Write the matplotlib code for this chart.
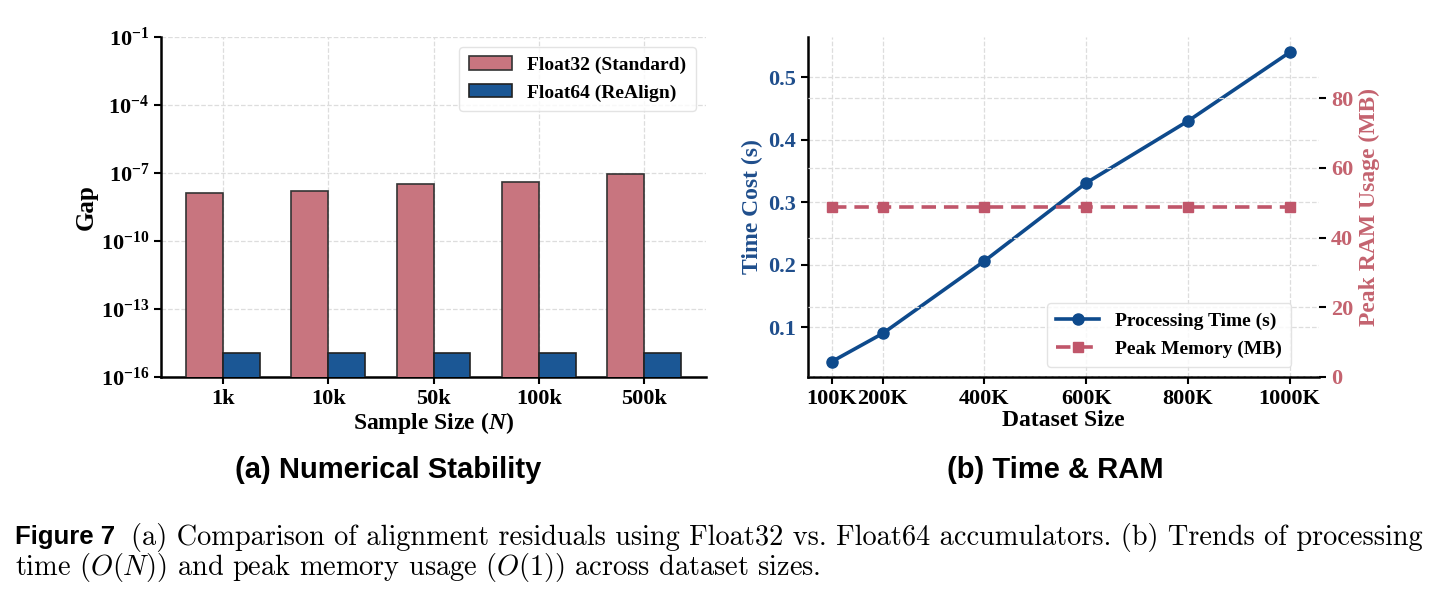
import numpy as np
import matplotlib
matplotlib.use("Agg")
import matplotlib.pyplot as plt
from matplotlib.ticker import NullLocator

# ---- datos (a) ----
tamanos = ["1k", "10k", "50k", "100k", "500k"]
gap_float32 = [1.3e-8, 1.6e-8, 3.2e-8, 4.0e-8, 9.5e-8]
gap_float64 = [1.1e-15, 1.1e-15, 1.1e-15, 1.1e-15, 1.1e-15]

# ---- datos (b) ----
dataset_k = [100, 200, 400, 600, 800, 1000]
dataset_labels = ["100K", "200K", "400K", "600K", "800K", "1000K"]
tiempo_s = [0.045, 0.090, 0.206, 0.331, 0.430, 0.540]
memoria_mb = [48.8, 48.8, 48.8, 48.8, 48.8, 48.8]

ROSA = "#C8757F"
AZUL_BARRA = "#1B5795"
AZUL_LINEA = "#0E4A8C"
ROSA_LINEA = "#C0566A"
ROSA_TEXTO = "#C4636F"
AZUL_TEXTO = "#1F4E8C"

plt.rcParams["font.family"] = ["Liberation Serif", "DejaVu Serif"]
plt.rcParams["font.weight"] = "bold"
plt.rcParams["mathtext.fontset"] = "custom"
plt.rcParams["mathtext.rm"] = "Liberation Serif:bold"
plt.rcParams["mathtext.it"] = "Liberation Serif:italic:bold"
plt.rcParams["mathtext.bf"] = "Liberation Serif:bold"

fig = plt.figure(figsize=(14.42, 5.96), dpi=100)
W, H = 1442, 596

def caja(x0, x1, y0, y1):
    return [x0 / W, 1 - y1 / H, (x1 - x0) / W, (y1 - y0) / H]

TICK = 16
LABEL = 17
LEG = 14

# ---------- (a) ----------
ax1 = fig.add_axes(caja(161, 706, 37, 377))
x = np.arange(len(tamanos))
ancho = 0.35
ax1.bar(x - ancho / 2, gap_float32, ancho, color=ROSA, edgecolor="#333333",
        linewidth=1.2, label="Float32 (Standard)", zorder=3)
ax1.bar(x + ancho / 2, gap_float64, ancho, color=AZUL_BARRA, edgecolor="#222222",
        linewidth=1.2, label="Float64 (ReAlign)", zorder=3)
ax1.set_yscale("log")
ax1.set_ylim(1e-16, 1e-1)
ax1.set_yticks([1e-16, 1e-13, 1e-10, 1e-7, 1e-4, 1e-1])
ax1.yaxis.set_minor_locator(NullLocator())
ax1.set_xlim(-0.59, 4.59)
ax1.set_xticks(x)
ax1.set_xticklabels(tamanos)
ax1.tick_params(axis="both", labelsize=TICK, width=1.5, length=5)
ax1.set_xlabel("Sample Size ($N$)", fontsize=LABEL, fontweight="bold", labelpad=1)
ax1.set_ylabel("Gap", fontsize=LABEL + 1, fontweight="bold", labelpad=2)
ax1.grid(True, linestyle="--", color="#dddddd", linewidth=0.9, zorder=0)
for s in ["top", "right"]:
    ax1.spines[s].set_visible(False)
for s in ["left", "bottom"]:
    ax1.spines[s].set_linewidth(1.8)
leg1 = ax1.legend(loc="upper right", fontsize=LEG, frameon=True, fancybox=True,
                  borderpad=0.5, handlelength=2.2, bbox_to_anchor=(1.0, 1.0))
leg1.get_frame().set_edgecolor("#dddddd")

# ---------- (b) ----------
ax2 = fig.add_axes(caja(808, 1319, 37, 377))
l1, = ax2.plot(dataset_k, tiempo_s, color=AZUL_LINEA, marker="o", markersize=8,
               linewidth=2.6, label="Processing Time (s)", zorder=3)
ax2.set_xticks(dataset_k)
ax2.set_xticklabels(dataset_labels)
ax2.set_xlim(53, 1058)
ax2.set_yticks([0.1, 0.2, 0.3, 0.4, 0.5])
ax2.tick_params(axis="x", labelsize=TICK, width=1.5, length=5)
ax2.tick_params(axis="y", labelsize=TICK, width=1.5, length=5, labelcolor=AZUL_TEXTO)
ax2.set_xlabel("Dataset Size", fontsize=LABEL, fontweight="bold", labelpad=1)
ax2.set_ylabel("Time Cost (s)", fontsize=LABEL, fontweight="bold", color=AZUL_TEXTO)
ax2.grid(True, linestyle="--", color="#dddddd", linewidth=0.9, zorder=0)
for s in ["top", "right"]:
    ax2.spines[s].set_visible(False)
for s in ["left", "bottom"]:
    ax2.spines[s].set_linewidth(1.8)

ax3 = ax2.twinx()
l2, = ax3.plot(dataset_k, memoria_mb, color=ROSA_LINEA, marker="s", markersize=7.5,
               linewidth=2.6, linestyle="--", dashes=(4, 2.2), label="Peak Memory (MB)", zorder=3)
ax3.set_ylim(0, max(memoria_mb) * 2)
ax3.set_yticks([0, 20, 40, 60, 80])
ax3.tick_params(axis="y", labelsize=TICK, width=1.5, length=5, labelcolor=ROSA_TEXTO)
ax3.set_ylabel("Peak RAM Usage (MB)", fontsize=LABEL, fontweight="bold", color=ROSA_TEXTO)
ax3.grid(True, linestyle="--", color="#dddddd", linewidth=0.9, zorder=0)
for s in ["top", "right", "left", "bottom"]:
    ax3.spines[s].set_visible(False)
leg2 = ax3.legend(handles=[l1, l2], loc="lower right", fontsize=LEG, frameon=True,
                  fancybox=True, borderpad=0.5, handlelength=2.2,
                  bbox_to_anchor=(0.965, 0.0))
leg2.get_frame().set_edgecolor("#dddddd")

# ---------- subtítulos y pie ----------
fig.text(388 / W, 1 - 470 / H, "(a) Numerical Stability", ha="center", va="center",
         fontsize=21, fontweight="bold", family=["Liberation Sans", "DejaVu Sans"])
fig.text(1055 / W, 1 - 470 / H, "(b) Time & RAM", ha="center", va="center",
         fontsize=21, fontweight="bold", family=["Liberation Sans", "DejaVu Sans"])

fig.text(15 / W, 1 - 537 / H, "Figure 7", ha="left", va="center", fontsize=18.5,
         fontweight="bold", family=["Liberation Sans", "DejaVu Sans"])
fig.text(131 / W, 1 - 537 / H,
         "(a) Comparison of alignment residuals using Float32 vs. Float64 accumulators. "
         "(b) Trends of processing",
         ha="left", va="center", fontsize=20.4, fontweight="normal", family="cmr10",
         math_fontfamily="cm")
fig.text(15 / W, 1 - 568 / H,
         "time ($O(N)$) and peak memory usage ($O(1)$) across dataset sizes.",
         ha="left", va="center", fontsize=20.4, fontweight="normal", family="cmr10",
         math_fontfamily="cm")

fig.savefig("out.png", dpi=100)
